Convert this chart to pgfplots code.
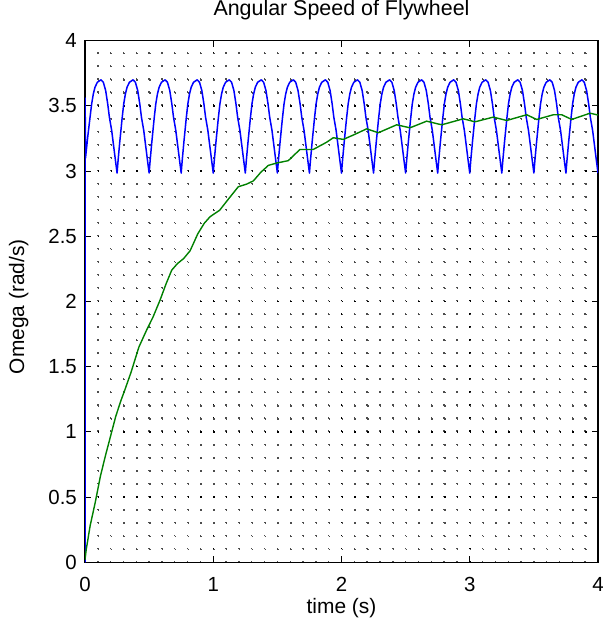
\documentclass[border=0pt]{standalone}
\usepackage{fontspec}
\setmainfont{Liberation Sans}
\usepackage{pgfplots}
\pgfplotsset{compat=1.18}
\usepackage{pgfplotstable}
\definecolor{mblue}{rgb}{0,0,1}
\definecolor{mgreen}{rgb}{0,0.5,0}

\pgfplotstableread{
t w
0.000 0.000
0.001 3.560
0.004 3.100
0.021 3.260
0.039 3.410
0.052 3.516
0.065 3.592
0.078 3.643
0.096 3.681
0.125 3.700
0.143 3.681
0.161 3.618
0.177 3.516
0.190 3.414
0.208 3.312
0.221 3.210
0.234 3.108
0.250 2.985
0.258 3.082
0.271 3.222
0.289 3.401
0.302 3.516
0.315 3.592
0.328 3.643
0.346 3.681
0.375 3.700
0.393 3.681
0.411 3.618
0.427 3.516
0.440 3.414
0.458 3.312
0.471 3.210
0.484 3.108
0.500 2.985
0.508 3.082
0.521 3.222
0.539 3.401
0.552 3.516
0.565 3.592
0.578 3.643
0.596 3.681
0.625 3.700
0.643 3.681
0.661 3.618
0.677 3.516
0.690 3.414
0.708 3.312
0.721 3.210
0.734 3.108
0.750 2.985
0.758 3.082
0.771 3.222
0.789 3.401
0.802 3.516
0.815 3.592
0.828 3.643
0.846 3.681
0.875 3.700
0.893 3.681
0.911 3.618
0.927 3.516
0.940 3.414
0.958 3.312
0.971 3.210
0.984 3.108
1.000 2.985
1.008 3.082
1.021 3.222
1.039 3.401
1.052 3.516
1.065 3.592
1.078 3.643
1.096 3.681
1.125 3.700
1.143 3.681
1.161 3.618
1.177 3.516
1.190 3.414
1.208 3.312
1.221 3.210
1.234 3.108
1.250 2.985
1.258 3.082
1.271 3.222
1.289 3.401
1.302 3.516
1.315 3.592
1.328 3.643
1.346 3.681
1.375 3.700
1.393 3.681
1.411 3.618
1.427 3.516
1.440 3.414
1.458 3.312
1.471 3.210
1.484 3.108
1.500 2.985
1.508 3.082
1.521 3.222
1.539 3.401
1.552 3.516
1.565 3.592
1.578 3.643
1.596 3.681
1.625 3.700
1.643 3.681
1.661 3.618
1.677 3.516
1.690 3.414
1.708 3.312
1.721 3.210
1.734 3.108
1.750 2.985
1.758 3.082
1.771 3.222
1.789 3.401
1.802 3.516
1.815 3.592
1.828 3.643
1.846 3.681
1.875 3.700
1.893 3.681
1.911 3.618
1.927 3.516
1.940 3.414
1.958 3.312
1.971 3.210
1.984 3.108
2.000 2.985
2.008 3.082
2.021 3.222
2.039 3.401
2.052 3.516
2.065 3.592
2.078 3.643
2.096 3.681
2.125 3.700
2.143 3.681
2.161 3.618
2.177 3.516
2.190 3.414
2.208 3.312
2.221 3.210
2.234 3.108
2.250 2.985
2.258 3.082
2.271 3.222
2.289 3.401
2.302 3.516
2.315 3.592
2.328 3.643
2.346 3.681
2.375 3.700
2.393 3.681
2.411 3.618
2.427 3.516
2.440 3.414
2.458 3.312
2.471 3.210
2.484 3.108
2.500 2.985
2.508 3.082
2.521 3.222
2.539 3.401
2.552 3.516
2.565 3.592
2.578 3.643
2.596 3.681
2.625 3.700
2.643 3.681
2.661 3.618
2.677 3.516
2.690 3.414
2.708 3.312
2.721 3.210
2.734 3.108
2.750 2.985
2.758 3.082
2.771 3.222
2.789 3.401
2.802 3.516
2.815 3.592
2.828 3.643
2.846 3.681
2.875 3.700
2.893 3.681
2.911 3.618
2.927 3.516
2.940 3.414
2.958 3.312
2.971 3.210
2.984 3.108
3.000 2.985
3.008 3.082
3.021 3.222
3.039 3.401
3.052 3.516
3.065 3.592
3.078 3.643
3.096 3.681
3.125 3.700
3.143 3.681
3.161 3.618
3.177 3.516
3.190 3.414
3.208 3.312
3.221 3.210
3.234 3.108
3.250 2.985
3.258 3.082
3.271 3.222
3.289 3.401
3.302 3.516
3.315 3.592
3.328 3.643
3.346 3.681
3.375 3.700
3.393 3.681
3.411 3.618
3.427 3.516
3.440 3.414
3.458 3.312
3.471 3.210
3.484 3.108
3.500 2.985
3.508 3.082
3.521 3.222
3.539 3.401
3.552 3.516
3.565 3.592
3.578 3.643
3.596 3.681
3.625 3.700
3.643 3.681
3.661 3.618
3.677 3.516
3.690 3.414
3.708 3.312
3.721 3.210
3.734 3.108
3.750 2.985
3.758 3.082
3.771 3.222
3.789 3.401
3.802 3.516
3.815 3.592
3.828 3.643
3.846 3.681
3.875 3.700
3.893 3.681
3.911 3.618
3.927 3.516
3.940 3.414
3.958 3.312
3.971 3.210
3.984 3.108
4.000 2.985
}\bluedata

\pgfplotstableread{
t w
0.000 0.020
0.010 0.100
0.040 0.280
0.080 0.460
0.120 0.660
0.160 0.820
0.200 0.970
0.240 1.120
0.280 1.240
0.310 1.320
0.360 1.460
0.420 1.650
0.480 1.780
0.530 1.880
0.585 2.010
0.630 2.130
0.676 2.240
0.720 2.290
0.770 2.330
0.820 2.390
0.880 2.520
0.930 2.600
0.975 2.650
1.050 2.700
1.130 2.800
1.195 2.880
1.260 2.900
1.313 2.925
1.370 2.990
1.430 3.044
1.495 3.062
1.585 3.080
1.676 3.166
1.780 3.166
1.885 3.222
1.936 3.256
2.014 3.243
2.100 3.280
2.196 3.324
2.287 3.294
2.430 3.355
2.534 3.332
2.664 3.383
2.781 3.355
2.950 3.401
3.041 3.378
3.184 3.414
3.288 3.388
3.444 3.432
3.522 3.396
3.652 3.432
3.717 3.432
3.795 3.396
3.938 3.444
4.000 3.430
}\greendata

\begin{document}
\begin{tikzpicture}
\useasboundingbox (0,0) rectangle (616bp,628bp);
\begin{axis}[
  at={(85bp,65.7bp)}, anchor=south west,
  scale only axis,
  width=513bp, height=521.6bp,
  xmin=0, xmax=4, ymin=0, ymax=4,
  xtick={0,1,2,3,4},
  ytick={0,0.5,...,4},
  minor x tick num=9,
  minor y tick num=4,
  tick align=inside,
  major tick length=6bp,
  minor tick length=0pt,
  every tick/.style={black, line width=0.8bp},
  axis line style={black, line width=1.4bp},
  grid=both,
  major grid style={black, line width=1.5bp},
  minor grid style={black!70, line width=1.4bp},
  x grid style={dash pattern=on 1.4bp off 11.641bp},
  y grid style={dash pattern=on 1.4bp off 11.425bp},
  /pgf/number format/assume math mode=true,
  ticklabel style={font=\fontsize{20.5}{24}\selectfont},
  xticklabel style={anchor=base, inner sep=0pt, yshift=-28.7bp},
  yticklabel style={anchor=east, inner sep=0pt, xshift=-8bp},
  title={Angular Speed of Flywheel},
  title style={at={(axis description cs:0.5,1.0364)}, anchor=base, inner sep=0pt, font=\fontsize{21.5}{25}\selectfont},
  xlabel={time (s)},
  xlabel style={at={(axis description cs:0.5,-0.0982)}, anchor=base, inner sep=0pt, font=\fontsize{21}{24}\selectfont},
  ylabel={Omega (rad/s)},
  ylabel style={at={(axis description cs:-0.1189,0.49)}, anchor=base, inner sep=0pt, font=\fontsize{21}{24}\selectfont},
]
\addplot[mblue, line width=1.5bp, line join=round] table[x=t, y=w] {\bluedata};
\addplot[mgreen, line width=1.4bp, line join=round] table[x=t, y=w] {\greendata};
\end{axis}
\end{tikzpicture}
\end{document}
